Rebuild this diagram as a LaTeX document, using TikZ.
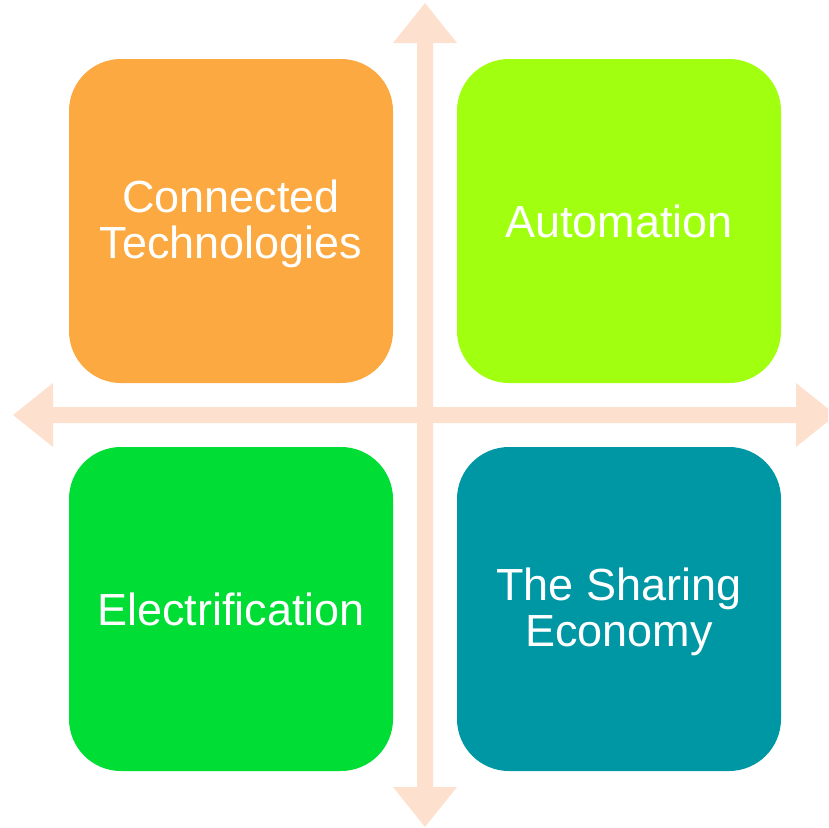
\documentclass[tikz,border=0pt]{standalone}
\usepackage{fontspec}
\setmainfont{Liberation Sans}
\definecolor{peach}{RGB}{253,224,205}
\definecolor{corange}{RGB}{251,169,64}
\definecolor{clime}{RGB}{161,255,16}
\definecolor{cgreen}{RGB}{0,222,53}
\definecolor{cteal}{RGB}{0,151,165}
\tikzset{
  quad/.style={rounded corners=52pt, minimum width=324pt, minimum height=324pt,
    inner sep=0pt, text=white, align=center, font=\fontsize{45}{46}\selectfont},
}
\begin{document}
\begin{tikzpicture}[x=1pt,y=-1pt]
\useasboundingbox (0,0) rectangle (828,828);
\clip (0,0) rectangle (828,828);
% vertical double arrow
\fill[peach] (425,3) -- (457,43) -- (433,43) -- (433,787) -- (457,787) -- (425,827)
  -- (393,787) -- (417,787) -- (417,43) -- (393,43) -- cycle;
% horizontal double arrow
\fill[peach] (13,415) -- (53,383) -- (53,407) -- (796,407) -- (796,383) -- (836,415)
  -- (796,447) -- (796,423) -- (53,423) -- (53,447) -- cycle;
\node[quad, fill=corange] (ct) at (231,221) {};
\node[text=white, align=center, font=\fontsize{45}{46}\selectfont] (ctt) at (231,224) {Connected\\Technologies};
\node[quad, fill=clime] (au) at (619,221) {Automation};
\node[quad, fill=cgreen] (el) at (231,609) {Electrification};
\node[quad, fill=cteal] (se) at (619,609) {};
\node[text=white, align=center, font=\fontsize{45}{46}\selectfont] (set) at (619,612) {The Sharing\\Economy};
\end{tikzpicture}
\end{document}
